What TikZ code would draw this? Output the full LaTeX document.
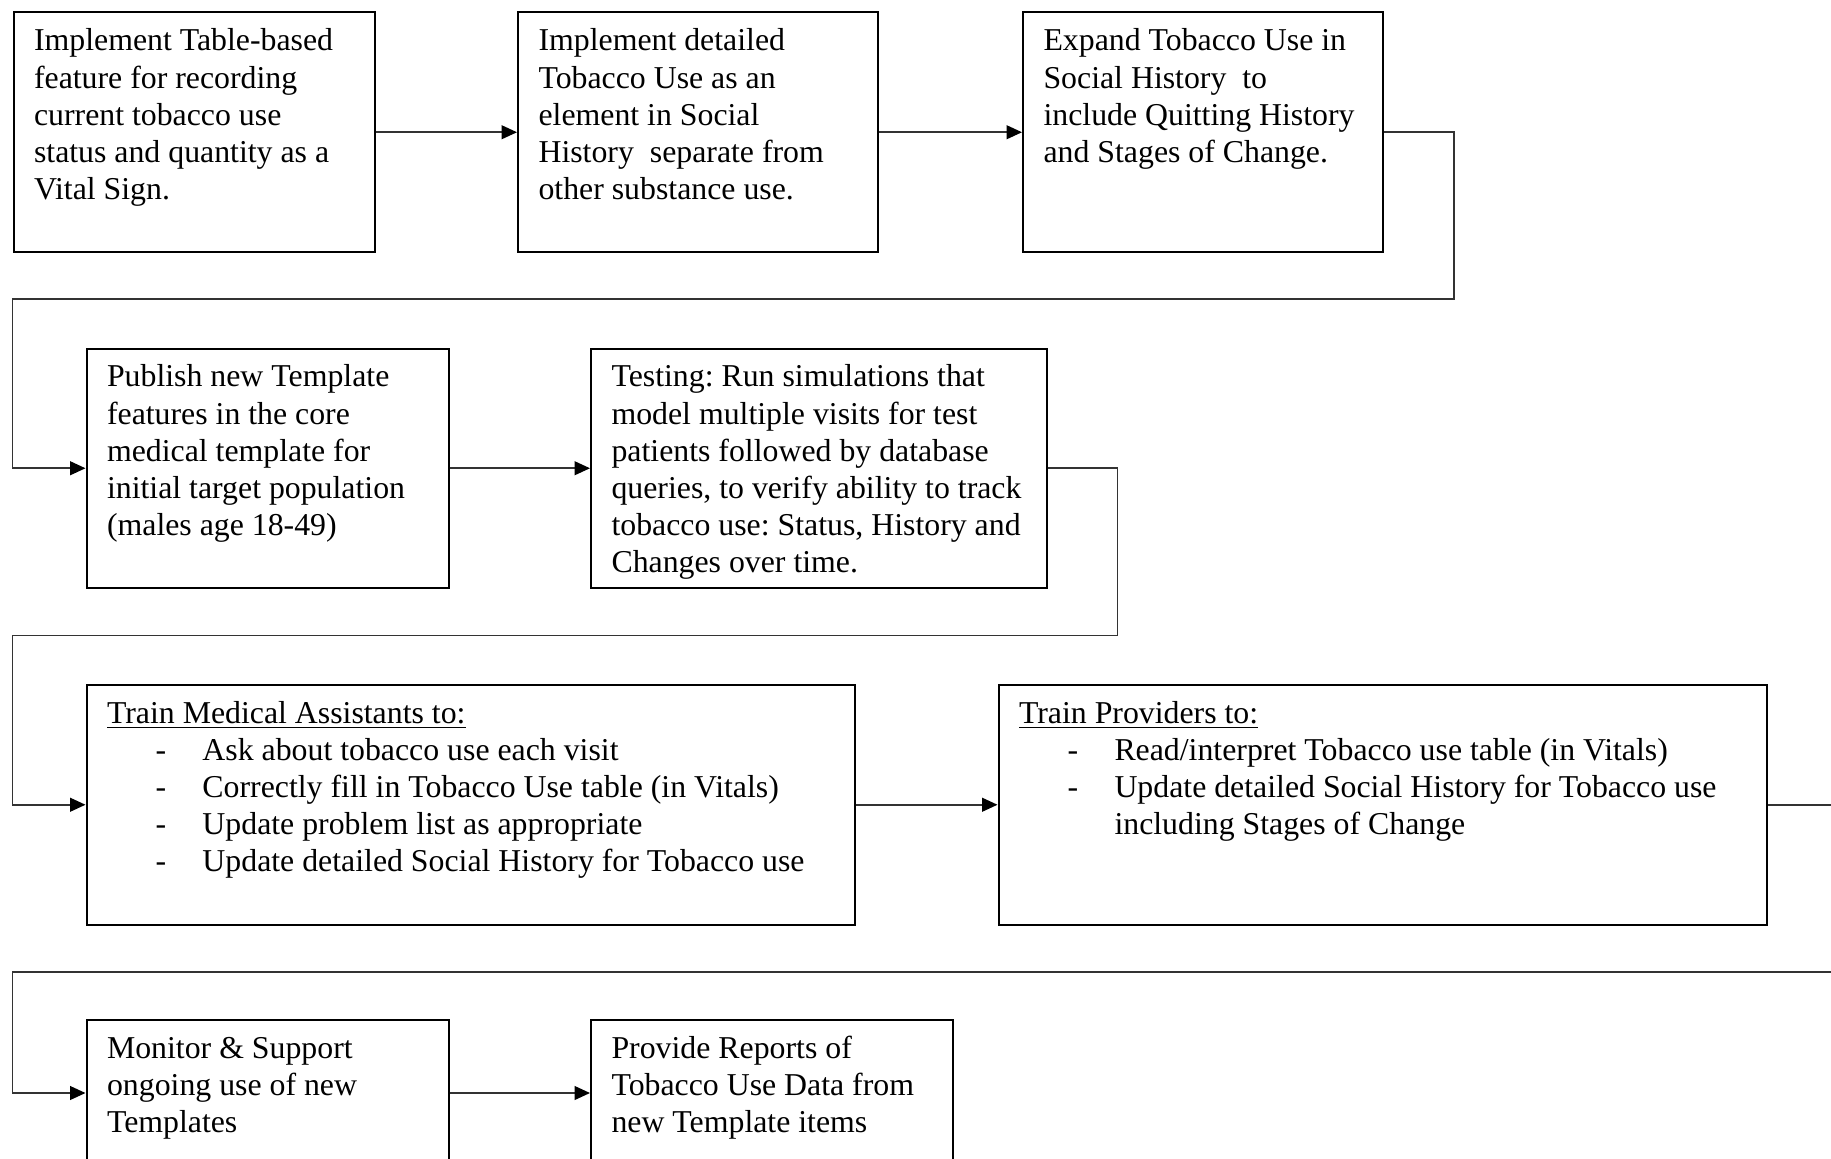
\documentclass[tikz,border=0pt]{standalone}
\usepackage{fontspec}
\setmainfont{Liberation Serif}
\frenchspacing
\usetikzlibrary{arrows.meta}
\newcommand{\itm}[1]{\hspace*{18.2pt}\makebox[17.6pt][l]{-}#1}
\newcommand{\itc}[1]{\hspace*{35.8pt}#1}
\tikzset{
  box/.style={draw=black, line width=0.75pt, inner sep=0pt, anchor=north west,
    minimum width={#1*0.375pt}, minimum height={239.5*0.375pt}},
  lowbox/.style={box=#1, minimum height={146*0.375pt}},
  txt/.style={anchor=north west, inner sep=0pt, align=left,
    font=\fontsize{11.93}{13.9}\selectfont},
  conn/.style={draw=black!80, line width=0.6pt, -{Triangle[length=5.8pt,width=5.2pt,color=black]}}
}
\begin{document}
\begin{tikzpicture}[x=0.375pt,y=-0.375pt]
\useasboundingbox (0,0) rectangle (1831,1159);
\clip (0,0) rectangle (1831,1159);
\fill[white] (0,0) rectangle (1831,1159);
% row 1
\node[box=361.5] (b1) at (12.5,11.5) {};
\node[box=360] (b2) at (517,11.5) {};
\node[box=360] (b3) at (1022,11.5) {};
% row 2
\node[box=362] (b4) at (85.5,347.5) {};
\node[box=456] (b5) at (590,347.5) {};
% row 3
\node[box=768] (b6) at (85.5,684) {};
\node[box=768.5] (b7) at (997.5,684) {};
% row 4
\node[lowbox=362] (b8) at (85.5,1019) {};
\node[lowbox=362] (b9) at (590,1019) {};
% texts
\node[txt] (t1) at ([shift={(21,13)}]b1.north west) {\strut Implement Table-based\\feature for recording\\current tobacco use\\status and quantity as a\\Vital Sign.};
\node[txt] (t2) at ([shift={(21,13)}]b2.north west) {\strut Implement detailed\\Tobacco Use as an\\element in Social\\History\ \ separate from\\other substance use.};
\node[txt] (t3) at ([shift={(21,13)}]b3.north west) {\strut Expand Tobacco Use in\\Social History\ \ to\\include Quitting History\\and Stages of Change.};
\node[txt] (t4) at ([shift={(21,13)}]b4.north west) {\strut Publish new Template\\features in the core\\medical template for\\initial target population\\(males age 18-49)};
\node[txt] (t5) at ([shift={(21,13)}]b5.north west) {\strut Testing: Run simulations that\\model multiple visits for test\\patients followed by database\\queries, to verify ability to track\\tobacco use: Status, History and\\Changes over time.};
\node[txt] (t6) at ([shift={(21,13)}]b6.north west) {\strut\underline{Train Medical Assistants to:}\\\itm{Ask about tobacco use each visit}\\\itm{Correctly fill in Tobacco Use table (in Vitals)}\\\itm{Update problem list as appropriate}\\\itm{Update detailed Social History for Tobacco use}};
\node[txt] (t7) at ([shift={(21,13)}]b7.north west) {\strut\underline{Train Providers to:}\\\itm{Read/interpret Tobacco use table (in Vitals)}\\\itm{Update detailed Social History for Tobacco use}\\\itc{including Stages of Change}};
\node[txt] (t8) at ([shift={(21,13)}]b8.north west) {\strut Monitor \& Support\\ongoing use of new\\Templates};
\node[txt] (t9) at ([shift={(21,13)}]b9.north west) {\strut Provide Reports of\\Tobacco Use Data from\\new Template items};
% bend points
\coordinate (k1) at (1454,299);
\coordinate (k2) at (12.5,299);
\coordinate (k3) at (1117.5,635.5);
\coordinate (k4) at (12.5,635.5);
\coordinate (k5) at (1870,972);
\coordinate (k6) at (12.5,972);
% connectors
\draw[conn] (b1.east) -- (b2.west);
\draw[conn] (b2.east) -- (b3.west);
\draw[conn] (b3.east) -| (k1) -- (k2) |- (b4.west);
\draw[conn] (b4.east) -- (b5.west);
\draw[conn] (b5.east) -| (k3) -- (k4) |- (b6.west);
\draw[conn] (b6.east) -- (b7.west);
\draw[conn] (b7.east) -| (k5) -- (k6) |- (b8.west);
\draw[conn] (b8.east) -- (b9.west);
\end{tikzpicture}
\end{document}
